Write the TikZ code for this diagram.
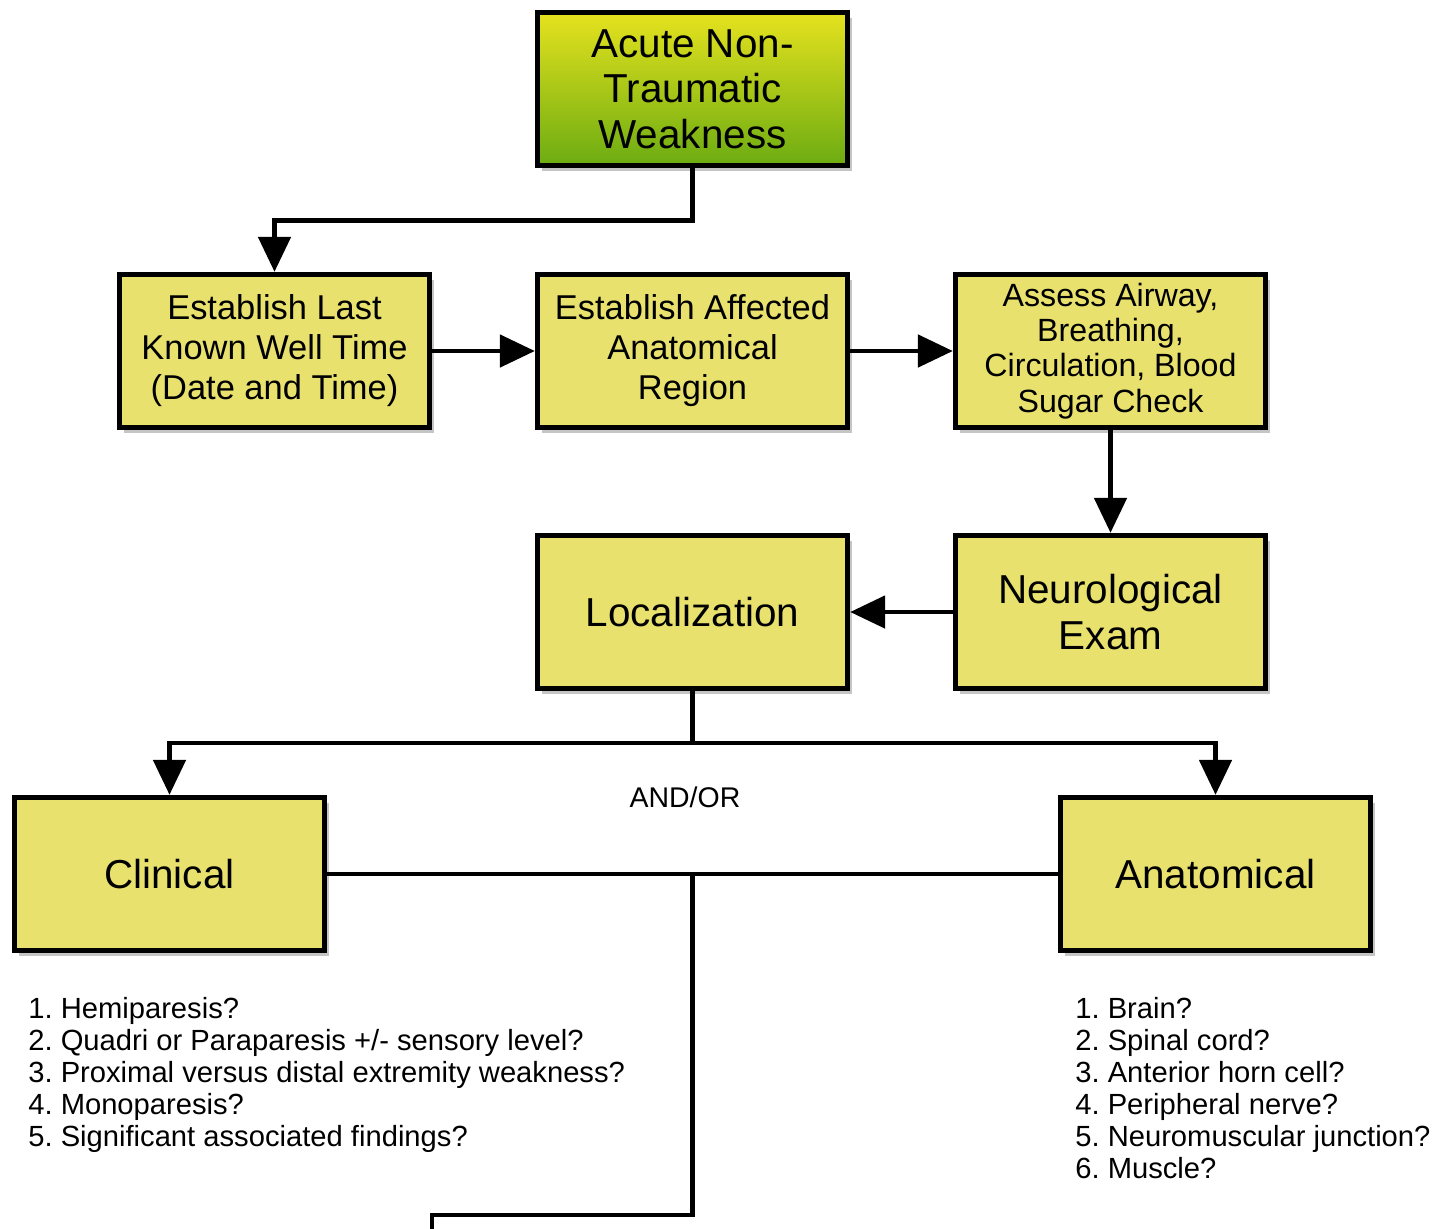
\documentclass[tikz,border=0pt]{standalone}
\usepackage{fontspec}
\setmainfont{Liberation Sans}
\usepackage{xcolor}
\usepackage{tikz}
\usetikzlibrary{arrows.meta,positioning,shadows}
\frenchspacing
\definecolor{boxyellow}{RGB}{232,225,110}
\definecolor{startyellow}{RGB}{230,226,30}
\definecolor{startgreen}{RGB}{108,172,18}
\tikzset{
  flowbox/.style={draw, line width=3pt, fill=boxyellow, align=center, minimum width=6.2cm, minimum height=3.06cm, inner sep=2pt,
    drop shadow={shadow xshift=0.08cm, shadow yshift=-0.11cm, fill=black!45, opacity=0.5}},
  flowstart/.style={flowbox, top color=startyellow, bottom color=startgreen, font=\fontsize{23}{26}\selectfont},
  flowmid/.style={flowbox, font=\fontsize{19.6}{22.8}\selectfont},
  flowsmall/.style={flowbox, font=\fontsize{18.3}{20}\selectfont},
  flowbig/.style={flowbox, font=\fontsize{23}{26}\selectfont},
  flowline/.style={line width=2.8pt},
  flowarrow/.style={-{Triangle[length=7mm,width=6.4mm]}, line width=2.8pt},
  listtext/.style={align=left, anchor=north west, inner sep=0pt, font=\fontsize{16.6}{18.2}\selectfont},
  joinlabel/.style={inner sep=0pt, font=\fontsize{16.2}{19}\selectfont}
}
\begin{document}
\begin{tikzpicture}
\useasboundingbox (0,0) rectangle (28.7,-24.56);
% boxes
\node[flowstart] (start) at (13.85,-1.78) {Acute Non-\\Traumatic\\Weakness};
\node[flowmid] (lastwell) at (5.49,-7.02) {Establish Last\\Known Well Time\\(Date and Time)};
\node[flowmid] (region) at (13.85,-7.02) {Establish Affected\\Anatomical\\Region};
\node[flowsmall] (abc) at (22.21,-7.02) {Assess Airway,\\Breathing,\\Circulation, Blood\\Sugar Check};
\node[flowbig] (neuro) at (22.21,-12.24) {Neurological\\Exam};
\node[flowbig] (local) at (13.85,-12.24) {Localization};
\node[flowbig] (clinical) at (3.39,-17.48) {Clinical};
\node[flowbig] (anatomical) at (24.31,-17.48) {Anatomical};
\node[joinlabel] (andor) at (13.7,-15.94) {AND/OR};
% lists
\node[listtext] (cliniclist) at (0.56,-19.94) {1. Hemiparesis?\\2. Quadri or Paraparesis +/- sensory level?\\3. Proximal versus distal extremity weakness?\\4. Monoparesis?\\5. Significant associated findings?};
\node[listtext] (anatlist) at (21.5,-19.94) {1. Brain?\\2. Spinal cord?\\3. Anterior horn cell?\\4. Peripheral nerve?\\5. Neuromuscular junction?\\6. Muscle?};
% connectors
\coordinate (split) at (13.85,-14.86);
\coordinate (mid) at (local.south |- clinical.east);
\coordinate (cont) at (8.64,-24.8);
\draw[flowarrow] (start.south) -- ++(0,-1.05) -| (lastwell.north);
\draw[flowarrow] (lastwell) -- (region);
\draw[flowarrow] (region) -- (abc);
\draw[flowarrow] (abc) -- (neuro);
\draw[flowarrow] (neuro) -- (local);
\draw[flowline] (local.south) -- (split);
\draw[flowarrow] (split) -| (clinical.north);
\draw[flowarrow] (split) -| (anatomical.north);
\draw[flowline] (clinical.east) -- (anatomical.west);
\draw[flowline] (mid) -- ++(0,-6.82) -| (cont);
\end{tikzpicture}
\end{document}
